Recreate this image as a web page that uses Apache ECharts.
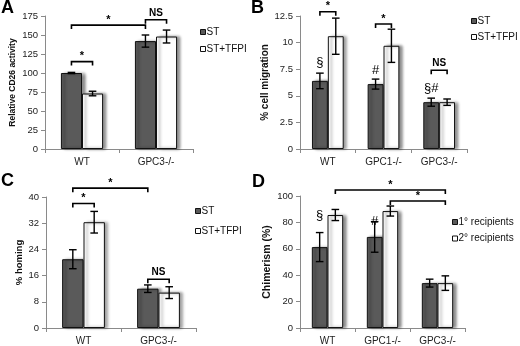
<!DOCTYPE html>
<html><head><meta charset="utf-8">
<script src="https://cdn.jsdelivr.net/npm/echarts@6/dist/echarts.min.js"></script>
<style>html,body{margin:0;padding:0;background:#fff}#c{width:520px;height:346px}</style>
</head><body><div id="c"></div>
<script>
// ---------- data ----------
const catsAC = ['WT', 'GPC3-/-'];
const catsBD = ['WT', 'GPC1-/-', 'GPC3-/-'];

const aST = [100, 142];   const aSTerr = [0.8, 8];
const aTF = [73, 148];    const aTFerr = [3, 8.5];
const aTicks = [0, 175, 25];

const bST = [6.4, 6.1, 4.4];  const bSTerr = [0.73, 0.47, 0.38];
const bTF = [10.6, 9.7, 4.4]; const bTFerr = [1.7, 1.56, 0.3];
const bTicks = [0, 12.5, 2.5];

const cST = [21, 12];     const cSTerr = [2.9, 1.15];
const cTF = [32.3, 10.8]; const cTFerr = [3.3, 1.8];
const cTicks = [0, 40, 8];

const d1 = [61.3, 69, 34];  const d1err = [11, 11.6, 3];
const d2 = [85.6, 88.6, 34]; const d2err = [4.2, 3.8, 5.5];
const dTicks = [0, 100, 20];

// brackets: [catFrom, sideFrom, catTo, sideTo, yValue]
const aBrackets = [[0,0,0,1,115],[0,0,1,0,163],[1,0,1,1,170]];
const aBracketText = ['*','*','NS'];
const bBrackets = [[0,0,0,1,12.9],[1,0,1,1,11.75],[2,0,2,1,7.4]];
const bBracketText = ['*','*','NS'];
const cBrackets = [[0,0,0,1,38],[0,0,1,0,42.7],[1,0,1,1,14.9]];
const cBracketText = ['*','*','NS'];
const dBrackets = [[0,1,2,1,104.5],[1,1,2,1,96.2]];
const dBracketText = ['*','*'];

// marks above bars: [cat, side, yValue]
const bMarks = [[0,0,8.1],[1,0,7.35],[2,0,5.7]];
const bMarkText = ['\u00a7','#','\u00a7#'];
const dMarks = [[0,0,85.6],[1,0,80.6]];
const dMarkText = ['\u00a7','#'];

const namesA = ['ST', 'ST+TFPI'];
const namesD = ['1\u00b0 recipients', '2\u00b0 recipients'];

// ---------- styling ----------
const FONT = 'Liberation Sans, Arial, Helvetica, sans-serif';
const BARW = 0.285;
const DARK = '#5a5a5a';

function errRender(params, api) {
  const cat = api.value(0), v = api.value(1), e = api.value(2), side = api.value(3);
  const band = api.size([1, 0])[0];
  const off = (side === 0 ? -1 : 1) * band * BARW / 2;
  const t = api.coord([cat, v + e]), b = api.coord([cat, v - e]);
  const x = t[0] + off, cap = 3.8;
  const st = { stroke: '#000', lineWidth: 1.4 };
  return { type: 'group', children: [
    { type: 'line', shape: { x1: x, y1: t[1], x2: x, y2: b[1] }, style: st },
    { type: 'line', shape: { x1: x - cap, y1: t[1], x2: x + cap, y2: t[1] }, style: st },
    { type: 'line', shape: { x1: x - cap, y1: b[1], x2: x + cap, y2: b[1] }, style: st }
  ]};
}
function bracketRender(texts) {
  return function (params, api) {
    const c1 = api.value(0), s1 = api.value(1), c2 = api.value(2), s2 = api.value(3), y = api.value(4);
    const band = api.size([1, 0])[0];
    const p1 = api.coord([c1, y]), p2 = api.coord([c2, y]);
    const x1 = p1[0] + (s1 === 0 ? -1 : 1) * band * BARW / 2;
    const x2 = p2[0] + (s2 === 0 ? -1 : 1) * band * BARW / 2;
    const yy = p1[1], drop = 4;
    const txt = texts[params.dataIndex];
    const isNS = txt === 'NS';
    return { type: 'group', children: [
      { type: 'polyline', shape: { points: [[x1, yy + drop], [x1, yy], [x2, yy], [x2, yy + drop]] },
        style: { stroke: '#000', lineWidth: 1.6, fill: null } },
      { type: 'text', style: { text: txt, x: (x1 + x2) / 2, y: yy - (isNS ? 2 : 0),
        textAlign: 'center', textVerticalAlign: 'bottom',
        font: (isNS ? 'bold 10px ' : 'bold 11px ') + FONT, fill: '#000' } }
    ]};
  };
}
function markRender(texts) {
  return function (params, api) {
    const c = api.value(0), s = api.value(1), y = api.value(2);
    const band = api.size([1, 0])[0];
    const p = api.coord([c, y]);
    const x = p[0] + (s === 0 ? -1 : 1) * band * BARW / 2;
    return { type: 'text', style: { text: texts[params.dataIndex], x: x, y: p[1],
      textAlign: 'center', textVerticalAlign: 'middle', font: '13px ' + FONT, fill: '#000' } };
  };
}

const grids = [
  { left: 45, top: 16, width: 148, height: 133 },
  { left: 300, top: 16, width: 167, height: 133 },
  { left: 46, top: 197, width: 150, height: 132 },
  { left: 300, top: 196, width: 165, height: 132 }
];
const yNames = ['Relative CD26 activity', '% cell migration', '% homing', 'Chimerism (%)'];
const yNameSize = [8.5, 10, 9.5, 10.5];
const yNameGap = [28, 30, 22, 27];
const ticks = [aTicks, bTicks, cTicks, dTicks];
const cats = [catsAC, catsBD, catsAC, catsBD];

const xAxis = cats.map((c, i) => ({
  type: 'category', gridIndex: i, data: c,
  axisLine: { lineStyle: { color: '#8a8a8a', width: 1 } },
  axisTick: { show: true, length: 4, lineStyle: { color: '#8a8a8a' } },
  axisLabel: { color: '#222', fontSize: 10, fontFamily: FONT, margin: 8 }
}));
const yAxis = ticks.map((t, i) => ({
  type: 'value', gridIndex: i, min: t[0], max: t[1], interval: t[2],
  name: yNames[i], nameLocation: 'middle', nameGap: yNameGap[i],
  nameTextStyle: { fontWeight: 'bold', fontSize: yNameSize[i], fontFamily: FONT, color: '#111' },
  axisLine: { show: true, lineStyle: { color: '#8a8a8a', width: 1 } },
  axisTick: { show: true, length: 4, lineStyle: { color: '#8a8a8a' } },
  splitLine: { show: false },
  axisLabel: { color: '#222', fontSize: 9.5, fontFamily: FONT, margin: 7 }
}));

function barSeries(name, data, gi, dark) {
  return {
    type: 'bar', name: name, data: data, xAxisIndex: gi, yAxisIndex: gi,
    barWidth: (BARW * 100) + '%', barGap: '0%',
    itemStyle: { color: dark ? DARK : '#fff', borderColor: '#111', borderWidth: 1,
      shadowColor: 'rgba(0,0,0,0.45)', shadowBlur: 3, shadowOffsetX: 3, shadowOffsetY: 0 },
    emphasis: { disabled: true }, z: 2
  };
}
function errSeries(vals, errs, side, gi) {
  return {
    type: 'custom', xAxisIndex: gi, yAxisIndex: gi, z: 5, silent: true,
    data: vals.map((v, k) => [k, v, errs[k], side]),
    encode: { x: 0, y: 1 }, renderItem: errRender
  };
}
function bracketSeries(br, texts, gi) {
  return { type: 'custom', xAxisIndex: gi, yAxisIndex: gi, z: 6, silent: true, clip: false,
    data: br, encode: { x: 0, y: 4 }, renderItem: bracketRender(texts) };
}
function markSeries(mk, texts, gi) {
  return { type: 'custom', xAxisIndex: gi, yAxisIndex: gi, z: 6, silent: true, clip: false,
    data: mk, encode: { x: 0, y: 2 }, renderItem: markRender(texts) };
}

const series = [
  barSeries(namesA[0], aST, 0, true), barSeries(namesA[1], aTF, 0, false),
  errSeries(aST, aSTerr, 0, 0), errSeries(aTF, aTFerr, 1, 0), bracketSeries(aBrackets, aBracketText, 0),
  barSeries(namesA[0], bST, 1, true), barSeries(namesA[1], bTF, 1, false),
  errSeries(bST, bSTerr, 0, 1), errSeries(bTF, bTFerr, 1, 1), bracketSeries(bBrackets, bBracketText, 1),
  markSeries(bMarks, bMarkText, 1),
  barSeries(namesA[0], cST, 2, true), barSeries(namesA[1], cTF, 2, false),
  errSeries(cST, cSTerr, 0, 2), errSeries(cTF, cTFerr, 1, 2), bracketSeries(cBrackets, cBracketText, 2),
  barSeries(namesD[0], d1, 3, true), barSeries(namesD[1], d2, 3, false),
  errSeries(d1, d1err, 0, 3), errSeries(d2, d2err, 1, 3), bracketSeries(dBrackets, dBracketText, 3),
  markSeries(dMarks, dMarkText, 3)
];

function legend(names, left, top, gap) {
  return { data: names, orient: 'vertical', left: left, top: top, itemGap: gap, padding: 0,
    itemWidth: 5, itemHeight: 5, icon: 'rect', selectedMode: false,
    itemStyle: { borderColor: '#111', borderWidth: 1, shadowBlur: 0, shadowOffsetX: 0, shadowColor: 'transparent' },
    textStyle: { fontSize: 10, fontFamily: FONT, color: '#111', padding: [0, 0, 0, -4] } };
}

const letters = [['A', 1, -1], ['B', 251, -1], ['C', 1, 172], ['D', 252, 173]];

const option = {
  animation: false,
  grid: grids,
  xAxis: xAxis, yAxis: yAxis, series: series,
  legend: [
    legend(namesA, 200, 27, 7),
    legend(namesA, 471, 16, 6),
    legend(namesA, 195, 206, 10),
    legend(namesD, 452, 217, 6.5)
  ],
  graphic: letters.map(l => ({ type: 'text', left: l[1], top: l[2],
    style: { text: l[0], font: 'bold 18px ' + FONT, fill: '#000' } }))
};
const chart = echarts.init(document.getElementById('c'), null, { renderer: 'canvas' });
chart.setOption(option);
</script></body></html>
